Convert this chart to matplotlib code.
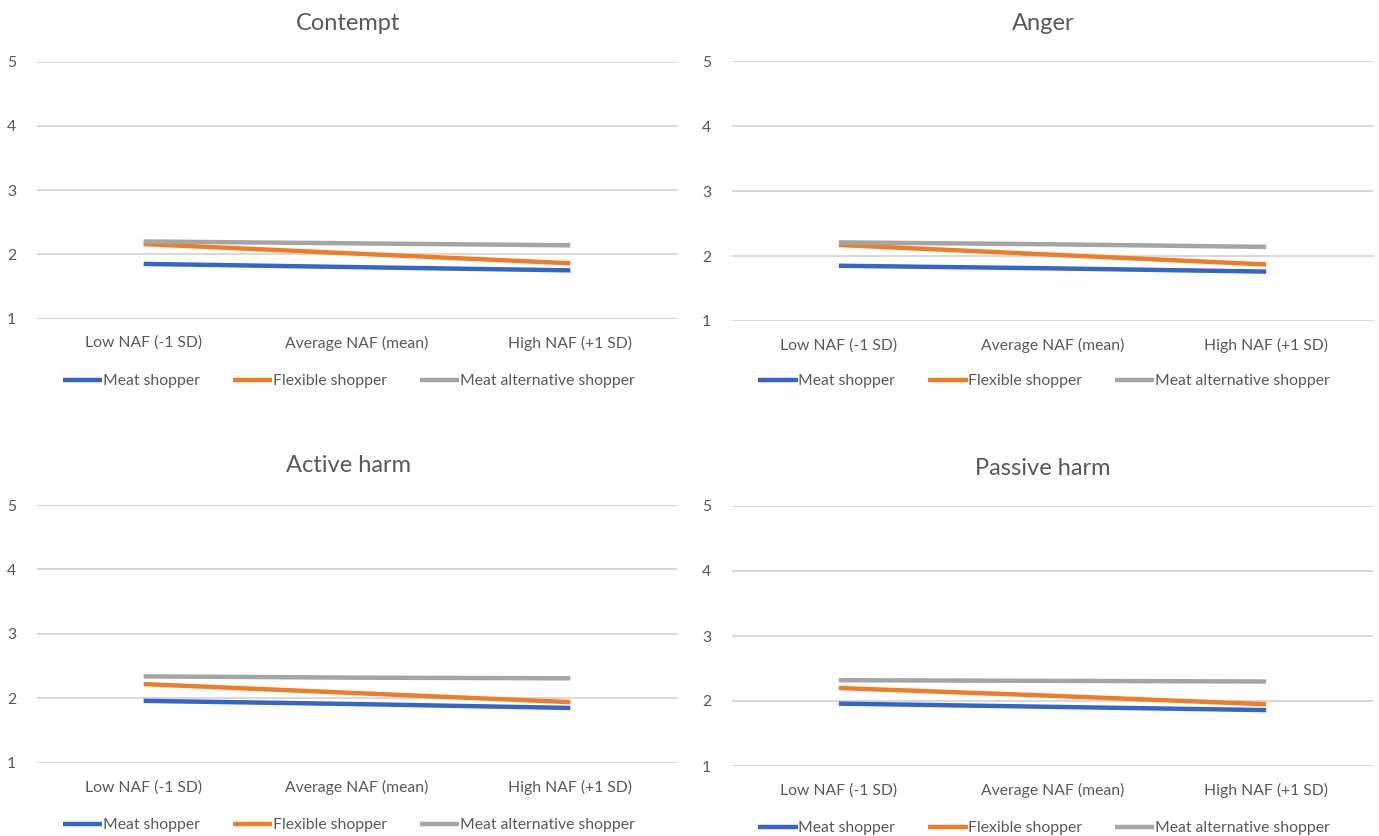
import matplotlib
matplotlib.use("Agg")
import matplotlib.pyplot as plt

plt.rcParams['font.family'] = ['Lato', 'DejaVu Sans']

categories = ["Low NAF (-1 SD)", "Average NAF (mean)", "High NAF (+1 SD)"]
series_names = ["Meat shopper", "Flexible shopper", "Meat alternative shopper"]
series_colors = ["#3465C8", "#F07C28", "#A5A5A5"]
yticks = [1, 2, 3, 4, 5]

contempt_meat = [1.85, 1.80, 1.75]
contempt_flex = [2.16, 2.01, 1.86]
contempt_alt = [2.20, 2.17, 2.14]

anger_meat = [1.85, 1.81, 1.76]
anger_flex = [2.17, 2.02, 1.87]
anger_alt = [2.21, 2.18, 2.14]

active_meat = [1.96, 1.91, 1.85]
active_flex = [2.22, 2.08, 1.94]
active_alt = [2.34, 2.32, 2.31]

passive_meat = [1.96, 1.91, 1.86]
passive_flex = [2.20, 2.08, 1.95]
passive_alt = [2.32, 2.31, 2.30]

panels = [
    ("Contempt", [contempt_meat, contempt_flex, contempt_alt]),
    ("Anger", [anger_meat, anger_flex, anger_alt]),
    ("Active harm", [active_meat, active_flex, active_alt]),
    ("Passive harm", [passive_meat, passive_flex, passive_alt]),
]

W, H = 1379, 836
fig = plt.figure(figsize=(W / 100, H / 100), dpi=100)

TXT = "#595959"
GRID = "#D9D9D9"

# pixel boxes: (left, right, y of top gridline, y of bottom gridline)
boxes = [
    (37, 677, 61.7, 318.5),
    (732, 1373, 61.0, 321.0),
    (37, 677, 505.0, 762.7),
    (732, 1373, 506.0, 766.0),
]
title_pos = [(348, 23), (1043, 23), (348, 466), (1043, 469)]
legend_y = [381, 381, 825, 828]

for (title, data), (l, r, t, b), (tx, ty), ly in zip(panels, boxes, title_pos, legend_y):
    ax = fig.add_axes([l / W, 1 - b / H, (r - l) / W, (b - t) / H])
    x = list(range(len(categories)))
    for vals, name, col in zip(data, series_names, series_colors):
        ax.plot(x, vals, color=col, lw=3.2, label=name, solid_capstyle='butt',
                clip_on=False, zorder=3)
    ax.set_xlim(-0.5, len(categories) - 0.5)
    ax.set_ylim(min(yticks), max(yticks))
    ax.set_yticks(yticks)
    ax.set_xticks(x)
    ax.set_xticklabels(categories)
    ax.grid(axis='y', color=GRID, lw=1.5, zorder=0)
    ax.grid(axis='x', visible=False)
    for s in ax.spines.values():
        s.set_visible(False)
    ax.tick_params(axis='both', length=0, colors=TXT, labelsize=11.3)
    ax.tick_params(axis='x', pad=12.5)
    ax.tick_params(axis='y', pad=15)
    fig.text(tx / W, 1 - ty / H, title, ha='center', va='center',
             fontsize=17, color=TXT)
    leg = ax.legend(loc='center', bbox_to_anchor=((l + r) / 2 / W - 0.006, 1 - ly / H),
                    bbox_transform=fig.transFigure, ncol=3, frameon=False,
                    handlelength=2.5, handletextpad=0.05, columnspacing=2.1,
                    fontsize=11.3)
    for txt in leg.get_texts():
        txt.set_color(TXT)

fig.savefig("out.png", dpi=100, facecolor="white")
